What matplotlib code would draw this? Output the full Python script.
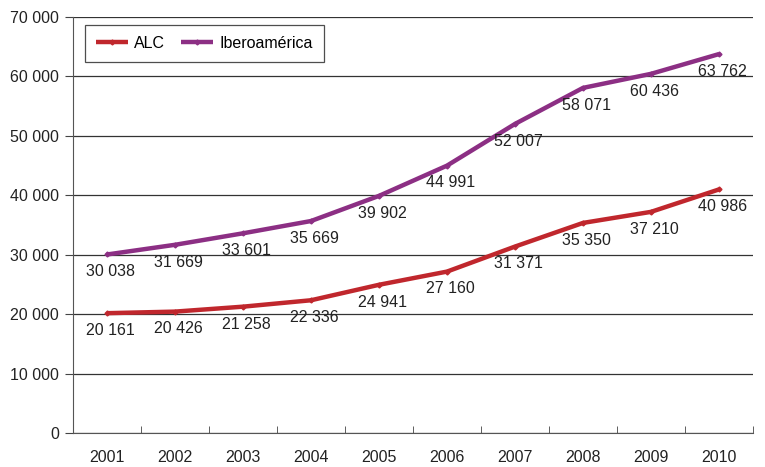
import matplotlib
matplotlib.use("Agg")
import matplotlib.pyplot as plt
import numpy as np

plt.rcParams['font.family'] = ['Liberation Sans', 'DejaVu Sans']

years = ["2001", "2002", "2003", "2004", "2005", "2006", "2007", "2008", "2009", "2010"]
alc = [20161, 20426, 21258, 22336, 24941, 27160, 31371, 35350, 37210, 40986]
ibero = [30038, 31669, 33601, 35669, 39902, 44991, 52007, 58071, 60436, 63762]
yticks = [0, 10000, 20000, 30000, 40000, 50000, 60000, 70000]

def fmt(v):
    return f"{v:,}".replace(",", " ")

FS = 11.5
fig = plt.figure(figsize=(7.65, 4.67), dpi=100)
ax = fig.add_axes([73/765, 1 - 433/467, (753-73)/765, (433-17)/467])

x = np.arange(len(years))
c_alc = "#C0272D"
c_ib = "#8C2F84"
ax.plot(x, alc, color=c_alc, lw=3.2, marker="D", ms=2.5, label="ALC", solid_capstyle="butt")
ax.plot(x, ibero, color=c_ib, lw=3.2, marker="D", ms=2.5, label="Iberoamérica", solid_capstyle="butt")

for xi, v in zip(x, alc):
    ax.annotate(fmt(v), (xi, v), xytext=(2.5, -12.5), textcoords="offset points",
                ha="center", va="center", fontsize=FS, color="#222222")
for xi, v in zip(x, ibero):
    ax.annotate(fmt(v), (xi, v), xytext=(2.5, -12.5), textcoords="offset points",
                ha="center", va="center", fontsize=FS, color="#222222")

ax.set_xlim(-0.5, len(years) - 0.5)
ax.set_ylim(0, 70000)
ax.set_yticks(yticks)
ax.set_yticklabels([fmt(v) for v in yticks], fontsize=FS, color="#222222")
ax.yaxis.grid(True, color="#333333", lw=0.9)
ax.set_axisbelow(True)

ax.set_xticks(x)
ax.set_xticklabels(years, fontsize=FS, color="#222222")
ax.tick_params(axis="x", length=0, pad=12)
ax.set_xticks(np.arange(len(years) + 1) - 0.5, minor=True)
ax.tick_params(axis="x", which="minor", length=5, direction="in", color="#444444")
ax.tick_params(axis="y", length=6, direction="out", color="#444444", pad=4)

for s in ["top", "right"]:
    ax.spines[s].set_visible(False)
ax.spines["left"].set_color("#555555")
ax.spines["bottom"].set_color("#555555")

leg = ax.legend(loc="upper left", bbox_to_anchor=(0.017, 0.981), ncol=2, fontsize=FS,
                frameon=True, fancybox=False, edgecolor="#222222", handlelength=2.0,
                handletextpad=0.4, columnspacing=1.0, borderpad=0.7, borderaxespad=0)
leg.get_frame().set_linewidth(0.9)

fig.savefig("out.png", dpi=100)
